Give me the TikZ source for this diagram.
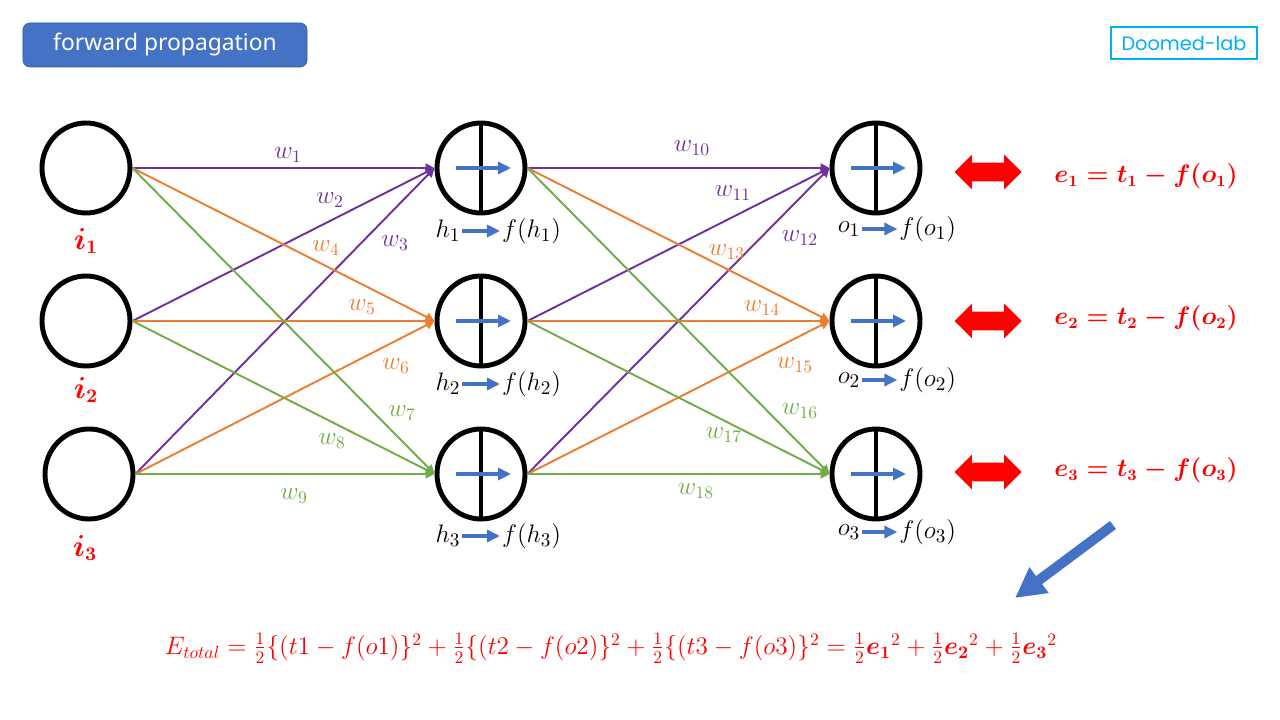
\documentclass[tikz,border=0pt]{standalone}
\usepackage{fontspec}
\usepackage{amsmath,bm}
\usetikzlibrary{shapes.geometric,shapes.arrows,arrows.meta,positioning}
\newfontfamily\titlefont{Noto Sans}
\newfontfamily\labfont{Poppins}
\definecolor{nnpurple}{RGB}{112,48,160}
\definecolor{nnorange}{RGB}{237,125,49}
\definecolor{nngreen}{RGB}{112,173,71}
\definecolor{nnblue}{RGB}{68,114,196}
\definecolor{nnred}{RGB}{255,0,0}
\definecolor{nncyan}{RGB}{0,176,240}

\begin{document}
\begin{tikzpicture}[x=0.2mm,y=-0.2mm,
    unit/.style={ellipse,draw=black,line width=2.8pt,inner sep=0pt,
                 minimum width=1.76cm,minimum height=1.8cm},
    neuron/.style={unit,path picture={
        \draw[line width=2.8pt] (path picture bounding box.north) -- (path picture bounding box.south);
        \draw[inarr] ([xshift=-5mm]path picture bounding box.center) -- ([xshift=6mm]path picture bounding box.center);}},
    inarr/.style={-{Triangle[length=2.6mm,width=2.4mm]},line width=1.8pt,color=nnblue},
    arr/.style={-{Triangle[length=1.8mm,width=1.8mm]},line width=1.1pt},
    wlab/.style={font=\fontsize{14.5}{16}\selectfont,inner sep=1pt},
    sub/.style={font=\fontsize{15}{17}\selectfont,inner sep=1pt},
    ilab/.style={font=\fontsize{16}{18}\selectfont\boldmath,text=nnred},
    eq/.style={font=\fontsize{13.5}{16}\selectfont\boldmath,text=nnred},
    redarr/.style={double arrow,fill=nnred,draw=none,inner sep=0pt,
                   minimum height=1.34cm,double arrow head extend=0.16cm},
    titlebox/.style={fill=nnblue,draw=nnblue!80!black,rounded corners=4pt,
                     minimum width=5.68cm,minimum height=0.88cm,text=white,
                     font=\titlefont\fontsize{13}{15}\selectfont},
    labbox/.style={draw=nncyan,line width=0.6pt,minimum width=2.92cm,
                   minimum height=0.64cm,text=nncyan,
                   font=\labfont\fontsize{11}{13}\selectfont},
    bigarr/.style={-{Triangle[length=6mm,width=6mm]},line width=2mm,color=nnblue}
  ]
    \useasboundingbox (0,0) rectangle (1280,720);
    \node[titlebox] (title) at (165,45) {forward propagation};
    \node[labbox] (lab) at (1184,43) {Doomed-lab};

    % layers
    \node[unit] (i1) at (86,168) {};
    \node[unit] (i2) at (86,321) {};
    \node[unit] (i3) at (89,474) {};
    \node[neuron] (h1) at (481,168) {};
    \node[neuron] (h2) at (481,321) {};
    \node[neuron] (h3) at (481,474) {};
    \node[neuron] (o1) at (876,168) {};
    \node[neuron] (o2) at (876,321) {};
    \node[neuron] (o3) at (876,474) {};

    \node[ilab] (i1lab) at (86,241) {$\bm{i_1}$};
    \node[ilab] (i2lab) at (86,390) {$\bm{i_2}$};
    \node[ilab] (i3lab) at (85,548) {$\bm{i_3}$};

    % input -> hidden
    \draw[arr,nnpurple] (i1.east) -- (h1.west);
    \draw[arr,nnpurple] (i2.east) -- (h1.west);
    \draw[arr,nnpurple] (i3.east) -- (h1.west);
    \draw[arr,nnorange] (i1.east) -- (h2.west);
    \draw[arr,nnorange] (i2.east) -- (h2.west);
    \draw[arr,nnorange] (i3.east) -- (h2.west);
    \draw[arr,nngreen] (i1.east) -- (h3.west);
    \draw[arr,nngreen] (i2.east) -- (h3.west);
    \draw[arr,nngreen] (i3.east) -- (h3.west);
    % hidden -> output
    \draw[arr,nnpurple] (h1.east) -- (o1.west);
    \draw[arr,nnpurple] (h2.east) -- (o1.west);
    \draw[arr,nnpurple] (h3.east) -- (o1.west);
    \draw[arr,nnorange] (h1.east) -- (o2.west);
    \draw[arr,nnorange] (h2.east) -- (o2.west);
    \draw[arr,nnorange] (h3.east) -- (o2.west);
    \draw[arr,nngreen] (h1.east) -- (o3.west);
    \draw[arr,nngreen] (h2.east) -- (o3.west);
    \draw[arr,nngreen] (h3.east) -- (o3.west);

    % weights
    \node[wlab,text=nnpurple] (w1) at (288,155) {$w_1$};
    \node[wlab,text=nnpurple] (w2) at (330,200) {$w_2$};
    \node[wlab,text=nnpurple] (w3) at (395,243) {$w_3$};
    \node[wlab,text=nnorange] (w4) at (326,248) {$w_4$};
    \node[wlab,text=nnorange] (w5) at (362,307) {$w_5$};
    \node[wlab,text=nnorange] (w6) at (396,366) {$w_6$};
    \node[wlab,text=nngreen] (w7) at (402,413) {$w_7$};
    \node[wlab,text=nngreen] (w8) at (332,441) {$w_8$};
    \node[wlab,text=nngreen] (w9) at (294,496) {$w_9$};
    \node[wlab,text=nnpurple] (w10) at (692,148) {$w_{10}$};
    \node[wlab,text=nnpurple] (w11) at (733,193) {$w_{11}$};
    \node[wlab,text=nnpurple] (w12) at (800,238) {$w_{12}$};
    \node[wlab,text=nnorange] (w13) at (727,252) {$w_{13}$};
    \node[wlab,text=nnorange] (w14) at (762,308) {$w_{14}$};
    \node[wlab,text=nnorange] (w15) at (795,365) {$w_{15}$};
    \node[wlab,text=nngreen] (w16) at (800,411) {$w_{16}$};
    \node[wlab,text=nngreen] (w17) at (724,435) {$w_{17}$};
    \node[wlab,text=nngreen] (w18) at (696,491) {$w_{18}$};

    % activations
    \node[sub] (h1in) at (448,231) {$h_1$};
    \node[sub,right=7.5mm of h1in] (h1out) {$f(h_1)$};
    \draw[inarr] (h1in) -- (h1out);
    \node[sub] (h2in) at (448,384) {$h_2$};
    \node[sub,right=7.5mm of h2in] (h2out) {$f(h_2)$};
    \draw[inarr] (h2in) -- (h2out);
    \node[sub] (h3in) at (448,536) {$h_3$};
    \node[sub,right=7.5mm of h3in] (h3out) {$f(h_3)$};
    \draw[inarr] (h3in) -- (h3out);
    \node[sub] (o1in) at (849,229) {$o_1$};
    \node[sub,right=7mm of o1in] (o1out) {$f(o_1)$};
    \draw[inarr] (o1in) -- (o1out);
    \node[sub] (o2in) at (849,380) {$o_2$};
    \node[sub,right=7mm of o2in] (o2out) {$f(o_2)$};
    \draw[inarr] (o2in) -- (o2out);
    \node[sub] (o3in) at (849,532) {$o_3$};
    \node[sub,right=7mm of o3in] (o3out) {$f(o_3)$};
    \draw[inarr] (o3in) -- (o3out);

    % errors
    \node[redarr] (d1) at (988,172) {\rule{0pt}{0.36cm}};
    \node[redarr] (d2) at (988,321) {\rule{0pt}{0.36cm}};
    \node[redarr] (d3) at (988,472) {\rule{0pt}{0.36cm}};
    \node[eq] (e1) at (1146,176) {$e_1 = t_1 - f(o_1)$};
    \node[eq] (e2) at (1146,318) {$e_2 = t_2 - f(o_2)$};
    \node[eq] (e3) at (1146,470) {$e_3 = t_3 - f(o_3)$};

    \coordinate (sumfrom) at (1113,525);
    \coordinate (sumto) at (1015,598);
    \draw[bigarr] (sumfrom) -- (sumto);

    \node[font=\fontsize{13.6}{16}\selectfont,text=nnred] (etotal) at (611,648)
      {$E_{total} = \frac{1}{2}\{(t1 - f(o1)\}^2 + \frac{1}{2}\{(t2 - f(o2)\}^2 + \frac{1}{2}\{(t3 - f(o3)\}^2 = \frac{1}{2}{\bm{e_1}}^2 + \frac{1}{2}{\bm{e_2}}^2 + \frac{1}{2}{\bm{e_3}}^2$};
  \end{tikzpicture}
\end{document}
